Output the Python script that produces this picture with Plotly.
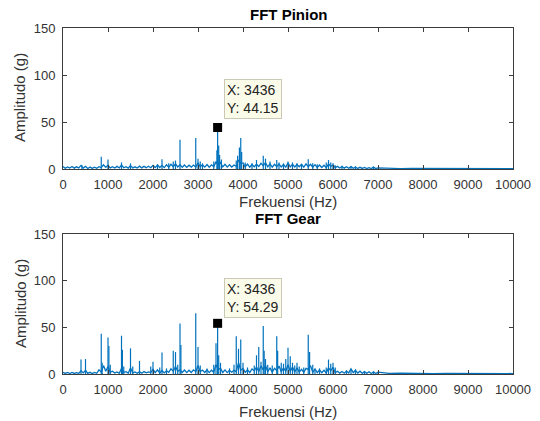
import plotly.graph_objects as go

# ---------------- data ----------------
# noise floor sampled every 50 Hz from 0 to 7000 Hz
pinion_floor = [
    2.5, 0.8, 2.2, 1.0, 2.6, 0.9, 2.3, 1.2, 3.8, 1.0,
    2.8, 0.6, 2.0, 0.7, 1.9, 0.8, 2.4, 1.5, 4.5, 1.8,
    4.0, 1.2, 2.4, 1.0, 2.8, 1.1, 4.2, 1.3, 2.5, 1.0,
    3.6, 1.2, 2.3, 1.0, 3.0, 1.2, 2.8, 1.4, 2.9, 1.3,
    3.8, 1.5, 4.2, 1.6, 3.9, 1.5, 4.5, 1.8, 5.0, 2.5,
    5.5, 2.2, 4.6, 1.8, 4.2, 1.7, 4.0, 2.0, 4.2, 2.0,
    6.5, 2.4, 4.5, 2.0, 4.8, 1.9, 4.4, 2.5, 7.5, 5.0,
    7.0, 2.2, 5.0, 2.0, 4.6, 2.1, 4.3, 2.8, 9.5, 6.0,
    6.5, 2.2, 5.2, 2.0, 4.8, 2.4, 5.0, 2.6, 6.0, 3.5,
    6.8, 2.3, 5.4, 2.0, 5.0, 2.5, 5.2, 2.2, 4.8, 2.0,
    6.5, 2.2, 5.0, 2.1, 4.8, 2.4, 5.0, 1.9, 5.5, 2.5,
    5.0, 1.9, 4.6, 1.7, 4.2, 1.6, 4.0, 1.5, 5.5, 2.8,
    4.2, 1.4, 2.8, 1.0, 2.6, 0.9, 2.4, 0.8, 2.5, 0.8,
    2.0, 0.6, 1.8, 0.6, 1.6, 0.5, 1.5, 0.5, 2.0, 0.5,
    1.2,
]
gear_floor = [
    1.8, 0.6, 1.6, 0.5, 1.7, 0.6, 1.5, 0.7, 3.5, 1.2,
    4.0, 0.6, 1.8, 0.5, 1.7, 0.8, 4.5, 2.0, 9.0, 3.0,
    8.0, 2.0, 3.0, 1.0, 2.2, 0.8, 6.0, 1.8, 2.5, 0.9,
    6.5, 1.2, 2.2, 0.8, 2.4, 0.9, 2.6, 1.2, 2.2, 1.5,
    5.0, 1.5, 4.5, 1.2, 3.8, 1.2, 3.5, 1.8, 5.5, 3.0,
    8.0, 3.0, 4.5, 1.6, 4.2, 1.5, 4.0, 1.6, 4.5, 2.5,
    9.0, 2.5, 4.2, 1.6, 4.5, 1.5, 4.0, 1.8, 10.0, 5.0,
    6.0, 1.6, 4.4, 1.5, 4.0, 2.0, 4.0, 2.5, 12.0, 4.0,
    6.0, 1.8, 4.6, 1.6, 5.5, 3.5, 7.5, 2.8, 8.5, 4.5,
    9.0, 2.5, 6.5, 2.0, 6.0, 3.5, 8.5, 2.5, 6.5, 3.0,
    10.0, 2.8, 7.5, 2.2, 6.5, 2.0, 5.0, 1.8, 6.0, 5.0,
    9.0, 1.8, 5.5, 1.5, 4.5, 1.3, 4.0, 1.2, 6.5, 3.5,
    7.0, 1.3, 3.0, 1.0, 2.6, 0.9, 3.2, 1.2, 5.5, 1.5,
    4.0, 1.0, 3.0, 0.8, 2.5, 0.7, 2.4, 0.6, 2.2, 0.6,
    2.0,
]
# tail of the spectrum, every 250 Hz from 7250 to 10000 Hz
pinion_tail = [0.6, 0.5, 0.6, 0.5, 0.6, 0.5, 0.5, 0.6, 0.5, 0.5, 0.6, 0.5]
gear_tail = [0.7, 1.0, 0.6, 0.6, 0.5, 0.6, 0.5, 0.5, 0.6, 0.5, 0.5, 0.5]

# discrete spectral peaks (Hz, g)
pinion_peak_f = [420, 850, 1000, 1300, 1500, 2100, 2200, 2350, 2450, 2500, 2600,
                 2950, 3000, 3050, 3100, 3350, 3420, 3436, 3460, 3480, 3520, 3850,
                 3880, 3920, 3950, 3970, 4050, 4200, 4300, 4450, 4500, 4600, 4750,
                 4800, 4900, 5000, 5100, 5200, 5300, 5450, 5550, 5650, 5850, 5900,
                 5950, 6000, 6050, 6200, 6400, 6500, 6900]
pinion_peak_a = [4, 13, 10, 7, 6, 5, 10.5, 6, 8, 9, 31,
                 33, 11, 8, 6, 8, 20, 44.15, 25, 15, 10, 9,
                 14, 23, 33, 18, 7, 6, 9.5, 14, 11, 8, 9.5,
                 7, 6, 8, 7, 6, 5, 10.5, 6, 5, 7, 9.5,
                 7, 6, 4, 3.5, 3, 3, 2.5]
gear_peak_f = [400, 500, 850, 870, 1000, 1020, 1050, 1300, 1320, 1350, 1500, 1550,
               1700, 1950, 2000, 2150, 2200, 2300, 2450, 2500, 2550, 2600, 2620,
               2950, 3000, 3050, 3200, 3350, 3400, 3436, 3460, 3500, 3700, 3800,
               3850, 3900, 3950, 4000, 4100, 4250, 4300, 4350, 4400, 4450, 4470,
               4500, 4550, 4650, 4750, 4770, 4850, 4900, 4950, 5000, 5050, 5100,
               5150, 5200, 5250, 5350, 5450, 5480, 5550, 5600, 5700, 5850, 5900,
               5950, 6000, 6050, 6300, 6400, 6500, 6700, 6900, 7000, 7400]
gear_peak_a = [15.5, 16, 43, 12, 39, 30, 10, 41, 26, 8, 27.5, 8,
               14, 8, 13, 7, 23, 6, 25, 23.5, 10, 54, 31,
               65, 29, 9, 6, 10, 33, 54.29, 20, 12, 6, 10,
               40.5, 27, 37, 12, 7, 9, 20, 29, 13, 51.5, 25,
               16, 10, 9, 40.5, 25, 12, 11, 16, 28, 19, 12,
               9, 12, 8, 7, 42, 23.5, 10, 5, 6, 7, 15.5,
               11, 12, 7, 4, 5, 5, 3, 3, 2, 1]

tip_x = 3436
pinion_tip_y = 44.15
gear_tip_y = 54.29

x_ticks = list(range(0, 10001, 1000))
x_tick_text = [str(v) for v in x_ticks]
y_ticks = [0, 50, 100, 150]
y_tick_text = [str(v) for v in y_ticks]

# ---------------- figure ----------------
BLUE = "#0072BD"
FONT = "Liberation Sans, Arial, sans-serif"
GREY = "#333333"

floor_f = list(range(0, 7001, 50))
tail_f = list(range(7250, 10001, 250))

fig = go.Figure()


def add_panel(floor, tail, pf, pa, tip_y, xa, ya):
    fig.add_trace(go.Scatter(
        x=floor_f + tail_f, y=floor + tail, mode="lines",
        line=dict(color=BLUE, width=1.3), xaxis=xa, yaxis=ya, showlegend=False,
        hoverinfo="skip"))
    sx, sy = [], []
    for f, a in zip(pf, pa):
        sx += [f, f, None]
        sy += [0, a, None]
    fig.add_trace(go.Scatter(
        x=sx, y=sy, mode="lines", line=dict(color=BLUE, width=1.2),
        xaxis=xa, yaxis=ya, showlegend=False, hoverinfo="skip"))
    fig.add_trace(go.Scatter(
        x=[tip_x], y=[tip_y], mode="markers",
        marker=dict(symbol="square", size=9, color="black"),
        xaxis=xa, yaxis=ya, showlegend=False))


add_panel(pinion_floor, pinion_tail, pinion_peak_f, pinion_peak_a, pinion_tip_y, "x", "y")
add_panel(gear_floor, gear_tail, gear_peak_f, gear_peak_a, gear_tip_y, "x2", "y2")

L, R, T, B = 63, 27, 28, 47
W, H = 540, 421
PH = H - T - B  # 346


def py(p):
    return (H - B - p) / PH


axis_common = dict(
    showline=True, linecolor="#3c3c3c", linewidth=1, mirror="ticks",
    ticks="inside", ticklen=4, tickcolor="#3c3c3c", tickwidth=1,
    showgrid=False, zeroline=False, automargin=False,
    tickfont=dict(family=FONT, size=13, color=GREY),
)

fig.update_layout(
    width=W, height=H,
    margin=dict(l=L, r=R, t=T, b=B, autoexpand=False),
    paper_bgcolor="white", plot_bgcolor="white",
    xaxis=dict(domain=[0, 1], anchor="y", range=[0, 10000], tickvals=x_ticks,
               ticktext=x_tick_text, ticklabelstandoff=3, **axis_common),
    yaxis=dict(domain=[py(169), 1], anchor="x", range=[0, 150], tickvals=y_ticks,
               ticktext=y_tick_text, ticklabelstandoff=4, **axis_common),
    xaxis2=dict(domain=[0, 1], anchor="y2", range=[0, 10000], tickvals=x_ticks,
                ticktext=x_tick_text, ticklabelstandoff=3, **axis_common),
    yaxis2=dict(domain=[0, py(234)], anchor="x2", range=[0, 150], tickvals=y_ticks,
                ticktext=y_tick_text, ticklabelstandoff=4, **axis_common),
    showlegend=False,
)

ann = []
# titles
for txt, p in [("<b>FFT Pinion</b>", 15), ("<b>FFT Gear</b>", 218)]:
    ann.append(dict(text=txt, x=0.5, y=py(p), xref="paper", yref="paper",
                    xanchor="center", yanchor="middle", showarrow=False,
                    font=dict(family=FONT, size=15, color="black")))
# x labels
for p in [201, 411]:
    ann.append(dict(text="Frekuensi (Hz)", x=0.5, y=py(p), xref="paper", yref="paper",
                    xanchor="center", yanchor="middle", showarrow=False,
                    font=dict(family=FONT, size=15, color=GREY)))
# y labels
for p in [98, 304]:
    ann.append(dict(text="Amplitudo (g)", x=(20 - L) / (W - L - R), y=py(p),
                    xref="paper", yref="paper", xanchor="center", yanchor="middle",
                    textangle=-90, showarrow=False,
                    font=dict(family=FONT, size=15, color=GREY)))
# data tips
for xa, ya, ytop, yv in [("x", "y", 95.5, pinion_tip_y), ("x2", "y2", 102.5, gear_tip_y)]:
    ann.append(dict(text=f"X: {tip_x}<br>Y: {yv:.2f}", x=3578, y=ytop, xref=xa, yref=ya,
                    xanchor="left", yanchor="top", align="left", showarrow=False,
                    bgcolor="#fbfbea", bordercolor="#c9c9b5", borderwidth=1, borderpad=2,
                    font=dict(family=FONT, size=14, color="#222222")))
fig.update_layout(annotations=ann)

fig.write_html(
    "out.html",
    config={"displayModeBar": False},
    post_script="document.body.style.margin='0';document.body.style.overflow='hidden';",
)
